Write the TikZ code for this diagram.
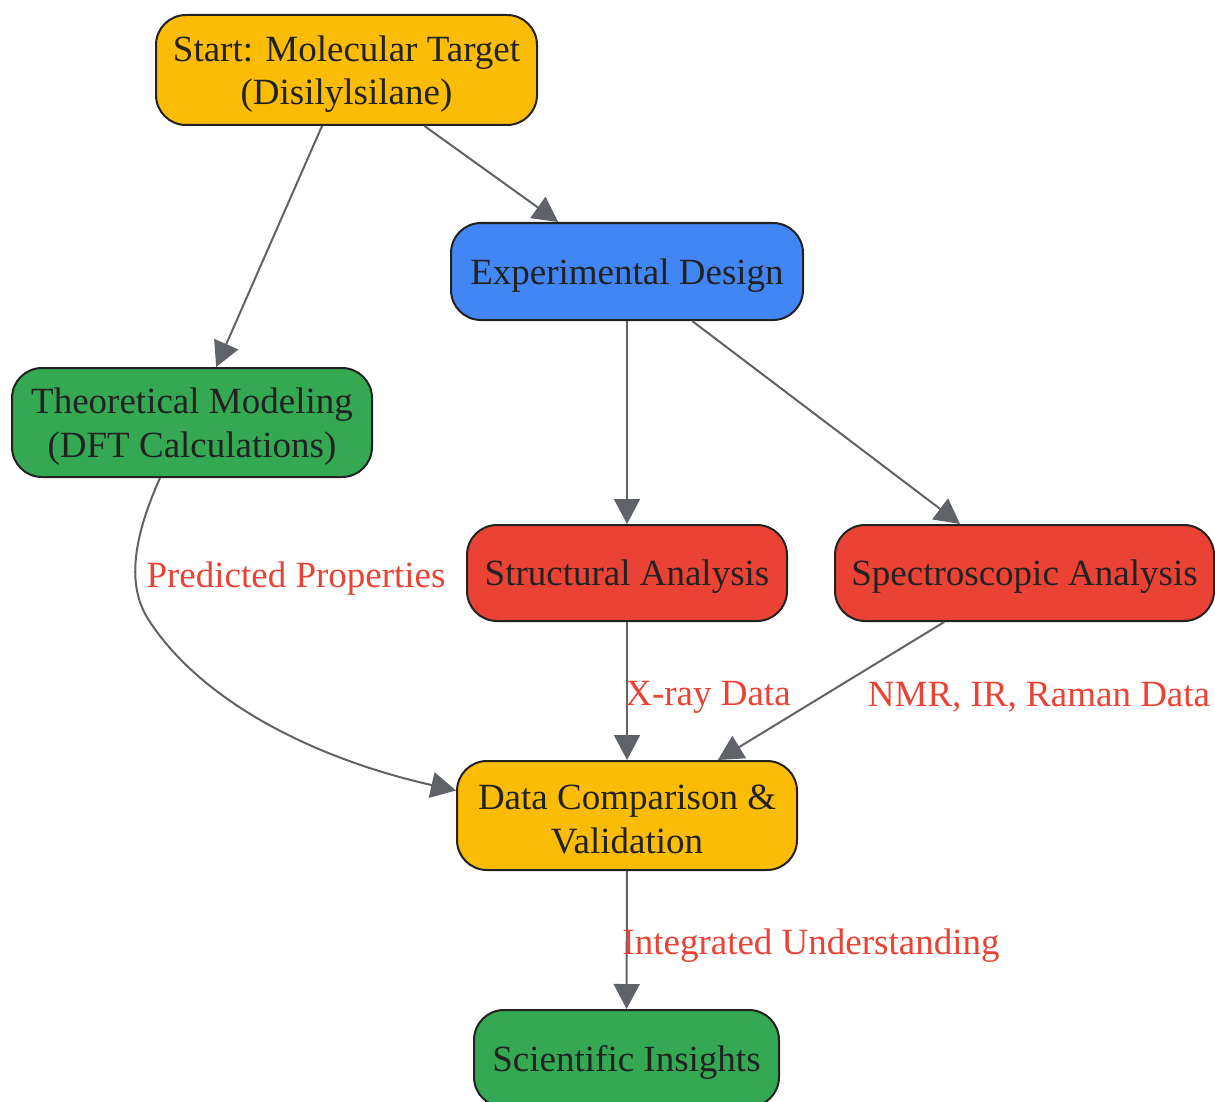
\documentclass[tikz,border=0pt]{standalone}
\usepackage{fontspec}
\setmainfont{Liberation Serif}
\usetikzlibrary{arrows.meta}
\definecolor{amber}{HTML}{FBBC05}
\definecolor{gblue}{HTML}{4285F4}
\definecolor{ggreen}{HTML}{34A853}
\definecolor{gred}{HTML}{EA4335}
\definecolor{edgegray}{HTML}{5F6368}
\definecolor{ink}{HTML}{222222}
\begin{document}
\begin{tikzpicture}[x=1pt,y=-1pt,
  box/.style={draw=ink, line width=2pt, rounded corners=30pt, inner sep=0pt},
  btext/.style={text=ink, align=center, inner sep=0pt, yshift=-4pt,
    font=\fontsize{37}{43.5}\selectfont},
  conn/.style={draw=edgegray, line width=2pt, -{Triangle[length=25pt,width=26pt]}},
  elabel/.style={text=gred, font=\fontsize{37}{43}\selectfont, inner sep=0pt}]
\useasboundingbox (0,0) rectangle (1215,1102);
\node[box, fill=amber, minimum width=381pt, minimum height=110pt] (start) at (346.5,70) {};
\node[box, fill=gblue, minimum width=352pt, minimum height=97pt] (exp) at (627,271.5) {};
\node[box, fill=ggreen, minimum width=360pt, minimum height=109pt] (theo) at (192,422.5) {};
\node[box, fill=gred, minimum width=320pt, minimum height=96pt] (struct) at (627,573) {};
\node[box, fill=gred, minimum width=379pt, minimum height=96pt] (spec) at (1024.5,573) {};
\node[box, fill=amber, minimum width=340pt, minimum height=109pt] (data) at (627,815.5) {};
\node[box, fill=ggreen, minimum width=305pt, minimum height=97pt] (ins) at (626.5,1058.5) {};

\node[btext] (startT) at (start.center) {Start: Molecular Target\\(Disilylsilane)};
\node[btext] (expT) at (exp.center) {Experimental Design};
\node[btext] (theoT) at (theo.center) {Theoretical Modeling\\(DFT Calculations)};
\node[btext] (structT) at (struct.center) {Structural Analysis};
\node[btext] (specT) at (spec.center) {Spectroscopic Analysis};
\node[btext] (dataT) at (data.center) {Data Comparison \&\\Validation};
\node[btext] (insT) at (ins.center) {Scientific Insights};

\draw[conn] (start) -- (theo);
\draw[conn] (start) -- (exp);
\draw[conn] (exp) -- (struct);
\draw[conn] (exp) -- (spec);
\draw[conn] ([xshift=-32pt]theo.south) .. controls (130,545) and (128,590) .. (150,622)
  .. controls (205,705) and (320,760) .. ([yshift=25pt]data.west);
\draw[conn] (struct) -- (data);
\draw[conn] (spec) -- (data);
\draw[conn] (data) -- (ins);

\node[elabel] (l1) at (296,579) {Predicted Properties};
\node[elabel] (l2) at (708,697) {X-ray Data};
\node[elabel] (l3) at (1039,697) {NMR, IR, Raman Data};
\node[elabel] (l4) at (811,946) {Integrated Understanding};
\end{tikzpicture}
\end{document}
